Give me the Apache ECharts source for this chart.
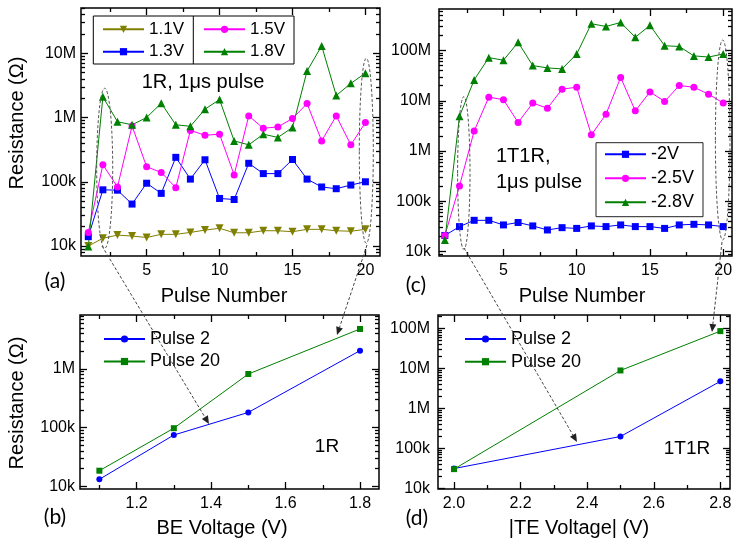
<!DOCTYPE html>
<html><head><meta charset="utf-8">
<script src="https://cdn.jsdelivr.net/npm/echarts@6/dist/echarts.min.js"></script>
<style>html,body{margin:0;padding:0;background:#fff}#c{width:736px;height:539px}</style>
</head><body><div id="c"></div>
<script>
// ---------- data ----------
const pulses = [1,2,3,4,5,6,7,8,9,10,11,12,13,14,15,16,17,18,19,20];
// panel (a) 1R, 1us pulse
const r1_11V = [10000,13200,14800,14300,13600,15200,15200,16300,17700,18900,16100,16100,17300,17300,16700,18200,18200,17300,17000,18200];
const r1_13V = [14000,75000,74000,45000,95000,66000,240000,110000,220000,55000,53000,194000,134000,134000,222000,110000,83000,78000,89000,100000];
const r1_15V = [16300,184000,83000,740000,171000,140000,81000,630000,530000,550000,128000,1060000,680000,714000,965000,1650000,433000,1060000,376000,835000];
const r1_18V = [9800,2100000,860000,770000,1000000,1670000,770000,730000,1350000,1900000,433000,376000,550000,490000,700000,5300000,13000000,2200000,3400000,4900000];
// panel (c) 1T1R, 1us pulse
const t1_2V  = [21000,31500,42000,42000,34000,38000,32500,27000,30000,29000,32500,31500,34000,31500,31500,29000,34000,35000,34000,31500];
const t1_25V = [21000,203000,2500000,11800000,10500000,3700000,9000000,7100000,17000000,18600000,2100000,5400000,29000000,6300000,15000000,9700000,20000000,18600000,13500000,9000000];
const t1_28V = [17000,4900000,26000000,72000000,64000000,145000000,50000000,45000000,43000000,85000000,340000000,300000000,360000000,183000000,316000000,124000000,120000000,78000000,74000000,85000000];
// panel (b)
const beVoltage = [1.1,1.3,1.5,1.8];
const r1Pulse2  = [13200,75000,182000,2050000];
const r1Pulse20 = [18500,98000,820000,4800000];
// panel (d)
const teVoltage = [2.0,2.5,2.8];
const t1Pulse2  = [31500,200000,4800000];
const t1Pulse20 = [30500,9000000,87000000];
// tick labels
const pulseTicks = [5,10,15,20];
const pulseMinor = [2.5,7.5,12.5,17.5];
const beTicks = [1.2,1.4,1.6,1.8];
const beMinor = [1.1,1.3,1.5,1.7];
const teTicks = [2.0,2.2,2.4,2.6,2.8];
const teMinor = [2.1,2.3,2.5,2.7];
const decadeTicks = [1e4,1e5,1e6,1e7,1e8];
const decadeNames = ['10k','100k','1M','10M','100M'];

// ---------- helpers ----------
const FF = '"Liberation Sans", Arial, sans-serif';
const LF = 'Lato, "Liberation Sans", sans-serif';
function logMinor(min, max){
  const out=[];
  for(let e=3;e<=9;e++){ for(let k=2;k<=9;k++){ const v=k*Math.pow(10,e); if(v>min && v<max) out.push(v);} }
  return out;
}
function inRange(arr,min,max){ return arr.filter(v=>v>=min&&v<=max); }
function fmtLog(v){ const i=decadeTicks.findIndex(d=>Math.abs(d-v)/d<1e-6); return i>=0?decadeNames[i]:''; }
const tickStyle = {color:'#000', width:1.3};
function axes(dim, g, type, min, max, major, minor, fmt, margin){
  const pos = dim==='x' ? ['bottom','top'] : ['left','right'];
  const base = {type, gridIndex:g, min, max, splitLine:{show:false}, axisLine:{show:false,onZero:false}};
  if(type==='log') base.logBase = 10;
  const mk = (p, vals, len, lab) => Object.assign({}, base, {
    position:p,
    axisTick:{show:true, inside:true, length:len, customValues:vals, lineStyle:tickStyle},
    axisLabel: lab ? {show:true, customValues:vals, formatter:fmt, margin:margin, color:'#000', fontSize:16, fontFamily:FF} : {show:false},
    minorTick:{show:false}
  });
  return [mk(pos[0], major, 7, true), mk(pos[0], minor, 4, false), mk(pos[1], major, 7, false), mk(pos[1], minor, 4, false)];
}
const P = [
  {grid:{left:81,top:8,width:299,height:248}, x:[0.5,21], y:[7000,5.06e7], xt:pulseTicks, xm:pulseMinor, xf:v=>String(Math.round(v))},
  {grid:{left:439,top:9,width:293,height:247}, x:[0.6,20.6], y:[8200,6.67e8], xt:pulseTicks, xm:pulseMinor, xf:v=>String(Math.round(v))},
  {grid:{left:80,top:315,width:299,height:174}, x:[1.048,1.851], y:[9030,8.3e6], xt:beTicks, xm:beMinor, xf:v=>v.toFixed(1)},
  {grid:{left:438,top:315,width:292,height:174}, x:[1.952,2.829], y:[9700,2.2e8], xt:teTicks, xm:teMinor, xf:v=>v.toFixed(1)}
];
const grids=[], xAxes=[], yAxes=[];
P.forEach((p,g)=>{
  grids.push(Object.assign({show:true, borderColor:'#000', borderWidth:1.5, containLabel:false, outerBoundsMode:'none'}, p.grid));
  xAxes.push(...axes('x', g, 'value', p.x[0], p.x[1], p.xt, p.xm, p.xf, 7));
  const ymaj = inRange(decadeTicks, p.y[0], p.y[1]);
  yAxes.push(...axes('y', g, 'log', p.y[0], p.y[1], ymaj, logMinor(p.y[0], p.y[1]), fmtLog, g%2===0?5:8));
});
function pair(xs, ys){ return xs.map((x,i)=>[x, ys[i]]); }
function ser(name, g, xs, ys, color, symbol, size, rot){
  return {type:'line', name, xAxisIndex:4*g, yAxisIndex:4*g, data:pair(xs,ys), symbol, symbolSize:size, symbolRotate:rot||0,
    color, lineStyle:{color, width:1}, itemStyle:{color}, animation:false, z:3};
}
const OLIVE='#808000', BLUE='#0000ff', MAG='#ff00ff', GREEN='#008000';
const series = [
  ser('1.1V',0,pulses,r1_11V,OLIVE,'triangle',8,180),
  ser('1.3V',0,pulses,r1_13V,BLUE,'rect',7),
  ser('1.5V',0,pulses,r1_15V,MAG,'circle',7),
  ser('1.8V',0,pulses,r1_18V,GREEN,'triangle',8),
  ser('-2V',1,pulses,t1_2V,BLUE,'rect',7),
  ser('-2.5V',1,pulses,t1_25V,MAG,'circle',7),
  ser('-2.8V',1,pulses,t1_28V,GREEN,'triangle',8),
  ser('Pulse 2',2,beVoltage,r1Pulse2,BLUE,'circle',6),
  ser('Pulse 20',2,beVoltage,r1Pulse20,GREEN,'rect',6),
  ser('Pulse 2',3,teVoltage,t1Pulse2,BLUE,'circle',6),
  ser('Pulse 20',3,teVoltage,t1Pulse20,GREEN,'rect',6)
];
function leg(data,left,top,gap,fs){
  return {data, orient:'vertical', left, top, itemWidth:41, itemHeight:9, itemGap:gap, padding:0, selectedMode:false,
    textStyle:{fontSize:fs, fontFamily:FF, color:'#000', lineHeight:20}, inactiveColor:'#000'};
}
const legends = [
  leg(['1.1V','1.3V'],102,19.3,2.4,17),
  leg(['1.5V','1.8V'],203,19.3,2.4,17),
  leg(['-2V','-2.5V','-2.8V'],604,144.3,4,18),
  leg(['Pulse 2','Pulse 20'],103,329,2.5,18),
  leg(['Pulse 2','Pulse 20'],464,329,2.7,18)
];
// ---------- annotations ----------
function txt(x,y,text,fs,opts){
  return Object.assign({type:'text', x, y, z:100, style:Object.assign({text, fontSize:fs, fontFamily:FF, fill:'#000', align:'center', verticalAlign:'middle'}, (opts&&opts.style)||{})}, opts&&opts.rotation!=null?{rotation:opts.rotation}:{});
}
function ell(cx,cy,rx,ry){ return {type:'ellipse', z:100, shape:{cx,cy,rx,ry}, style:{fill:'none', stroke:'#555', lineWidth:1, lineDash:[3,2]}}; }
function arrow(x1,y1,x2,y2){
  const dx=x2-x1, dy=y2-y1, L=Math.hypot(dx,dy), ux=dx/L, uy=dy/L, hl=8, hw=3.5;
  const bx=x2-ux*hl, by=y2-uy*hl;
  return [
    {type:'line', z:100, shape:{x1,y1,x2:bx,y2:by}, style:{stroke:'#444', lineWidth:1, lineDash:[3,2]}},
    {type:'polygon', z:100, shape:{points:[[x2,y2],[bx-uy*hw,by+ux*hw],[bx+uy*hw,by-ux*hw]]}, style:{fill:'#222'}}
  ];
}
const graphic = [
  {type:'rect', z:90, shape:{x:93.3,y:16,width:200.7,height:48}, style:{fill:'none', stroke:'#000', lineWidth:1}},
  {type:'line', z:90, shape:{x1:193.3,y1:16,x2:193.3,y2:64}, style:{stroke:'#000', lineWidth:1}},
  {type:'rect', z:90, shape:{x:596,y:142.7,width:107,height:74}, style:{fill:'none', stroke:'#222', lineWidth:1}},
  txt(17,123,'Resistance (Ω)',20,{rotation:Math.PI/2}),
  txt(17,403,'Resistance (Ω)',20,{rotation:Math.PI/2}),
  txt(224,296,'Pulse Number',20),
  txt(582,296,'Pulse Number',20),
  txt(222,528,'BE Voltage (V)',20),
  txt(579,528,'|TE Voltage| (V)',20),
  txt(203,82,'1R, 1μs pulse',20),
  txt(496,156,'1T1R,',20,{style:{align:'left'}}),
  txt(496,182,'1μs pulse',20,{style:{align:'left'}}),
  txt(327,447,'1R',19),
  txt(687,449,'1T1R',19),
  txt(55,281,'(a)',21,{style:{fontFamily:LF}}),
  txt(416,285,'(c)',21,{style:{fontFamily:LF}}),
  txt(55,517,'(b)',21,{style:{fontFamily:LF}}),
  txt(417,518,'(d)',21,{style:{fontFamily:LF}}),
  ell(104.7,168.3,8,80),
  ell(366.3,150.8,7,92.5),
  ell(463.8,173,6.2,76.3),
  ell(722.7,140,7.3,100),
  ...arrow(102,246,209,424),
  ...arrow(367,245,337,335),
  ...arrow(464,248,577,442),
  ...arrow(722,242,712,332)
];
const chart = echarts.init(document.getElementById('c'), null, {renderer:'canvas'});
chart.setOption({
  animation:false,
  backgroundColor:'#fff',
  grid:grids, xAxis:xAxes, yAxis:yAxes, legend:legends, series, graphic
});
</script></body></html>
